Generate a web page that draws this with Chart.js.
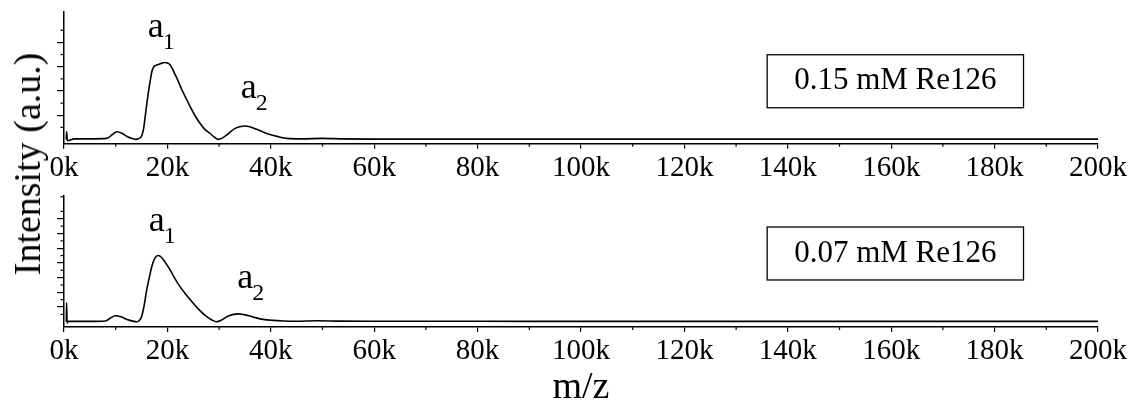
<!DOCTYPE html>
<html>
<head>
<meta charset="utf-8">
<title>MALDI spectra Re126</title>
<style>
  body { margin: 0; background: #fff; }
  #wrap { position: relative; width: 1133px; height: 404px; overflow: hidden; }
  #topChart { position: absolute; left: 0; top: 0; }
  #bottomChart { position: absolute; left: 0; top: 186px; }
  #ytitle {
    position: absolute; left: 27px; top: 164px;
    transform: translate(-50%, -50%) rotate(-90deg);
    font: 38px "Liberation Serif", "Times New Roman", serif;
    line-height: 1; white-space: nowrap; color: #000;
  }
</style>
</head>
<body>
<div id="wrap">
  <canvas id="topChart" width="1133" height="186"></canvas>
  <canvas id="bottomChart" width="1133" height="218"></canvas>
  <div id="ytitle">Intensity (a.u.)</div>
</div>

<script src="https://cdn.jsdelivr.net/npm/chart.js"></script>
<script>
  // m/z values and intensities
  const mzTop = [450, 500, 650, 2000, 5000, 8300, 9300, 10200, 11200, 12100, 13200, 13900, 14600, 15000,
    15400, 15700, 16000, 16300, 16700, 17000, 17300, 17600, 18100, 18600, 19500, 20100, 20500, 21000,
    21500, 22100, 22800, 23600, 24400, 25300, 26300, 27200, 28200, 29100, 29800, 30600, 31500, 32300,
    33100, 34000, 35000, 36100, 37300, 38500, 39800, 41400, 43100, 46000, 50000, 54000, 60000, 80000,
    100000, 120000, 140000, 160000, 180000, 200000];
  const intTop = [0, 0.32, -0.05, 0.03, 0.03, 0.05, 0.2, 0.32, 0.26, 0.14, 0.04, 0.01, 0.06, 0.14,
    0.45, 0.94, 1.45, 1.91, 2.45, 2.8, 2.97, 3.04, 3.08, 3.12, 3.17, 3.14, 3.08, 2.9,
    2.67, 2.4, 2.05, 1.7, 1.36, 1.0, 0.67, 0.43, 0.26, 0.1, 0.01, 0.06, 0.19, 0.34,
    0.46, 0.53, 0.56, 0.52, 0.42, 0.31, 0.21, 0.12, 0.05, 0.03, 0.05, 0.03, 0.02, 0.02,
    0.02, 0.02, 0.02, 0.02, 0.02, 0.02];

  const mzBottom = [450, 500, 600, 800, 2000, 5000, 8000, 9000, 9900, 11000, 12200, 13300, 14100, 14600,
    15000, 15500, 16000, 16500, 17000, 17600, 18200, 18700, 19200, 19800, 20500, 21400, 22400, 23700,
    25000, 26300, 27600, 28600, 29500, 30500, 31500, 32600, 33700, 34800, 35900, 37200, 38500, 40400,
    42400, 45000, 49000, 53000, 60000, 80000, 100000, 120000, 140000, 160000, 180000, 200000];
  const intBottom = [0, 1.28, -0.1, 0.03, 0.02, 0.02, 0.05, 0.25, 0.41, 0.34, 0.15, 0.04, 0.0, 0.1,
    0.34, 1.1, 2.17, 3.0, 3.77, 4.34, 4.5, 4.42, 4.23, 3.92, 3.54, 2.97, 2.4, 1.8,
    1.26, 0.75, 0.34, 0.12, 0.0, 0.12, 0.34, 0.48, 0.53, 0.48, 0.39, 0.26, 0.16, 0.09,
    0.05, 0.03, 0.06, 0.04, 0.03, 0.03, 0.02, 0.02, 0.02, 0.02, 0.02, 0.02];

  const xTicks = [0, 20000, 40000, 60000, 80000, 100000, 120000, 140000, 160000, 180000, 200000];
  const sampleLabels = ['0.15 mM Re126', '0.07 mM Re126'];
  const peakNames = ['a', 'a'];
  const peakSubs = ['1', '2'];

  const SERIF = '"Liberation Serif", "Times New Roman", serif';

  // minor ticks, peak labels and the sample box
  const extras = {
    id: 'extras',
    afterDraw(chart) {
      const { ctx, scales: { x, y } } = chart;
      const o = chart.options.plugins.extras;
      ctx.save();
      ctx.strokeStyle = '#000';
      ctx.lineWidth = 1.2;
      for (let v = 10000; v < x.max; v += 20000) {
        const px = x.getPixelForValue(v);
        ctx.beginPath(); ctx.moveTo(px, x.top); ctx.lineTo(px, x.top + 3); ctx.stroke();
      }
      for (let v = 0.5; v <= y.max; v += 1) {
        const py = y.getPixelForValue(v);
        ctx.beginPath(); ctx.moveTo(y.right - 3.5, py); ctx.lineTo(y.right, py); ctx.stroke();
      }

      ctx.fillStyle = '#000';
      ctx.textAlign = 'left';
      ctx.textBaseline = 'alphabetic';
      o.peaks.forEach((p, i) => {
        const px = x.getPixelForValue(p.x), py = y.getPixelForValue(p.y);
        ctx.font = '36px ' + SERIF;
        ctx.fillText(peakNames[i], px, py);
        const w = ctx.measureText(peakNames[i]).width;
        ctx.font = '24px ' + SERIF;
        ctx.fillText(peakSubs[i], px + w - 1, py + 12);
      });

      ctx.font = '31px ' + SERIF;
      const cx = x.getPixelForValue(o.box.x), cy = y.getPixelForValue(o.box.y);
      const tw = ctx.measureText(o.box.text).width;
      const bw = tw + 54, bh = 53;
      ctx.lineWidth = 1.3;
      ctx.strokeRect(cx - bw / 2, cy - bh / 2, bw, bh);
      ctx.textAlign = 'center';
      ctx.textBaseline = 'middle';
      ctx.fillText(o.box.text, cx, cy);
      ctx.restore();
    }
  };

  function makeChart(id, mz, vals, yMin, yMax, padTop, xHeight, showTitle, extraOpts) {
    const ctx = document.getElementById(id).getContext('2d');
    return new Chart(ctx, {
      type: 'line',
      data: {
        datasets: [{
          data: mz.map((m, i) => ({ x: m, y: vals[i] })),
          borderColor: '#000',
          borderWidth: 1.6,
          pointRadius: 0,
          fill: false,
          cubicInterpolationMode: 'monotone'
        }]
      },
      options: {
        responsive: false,
        animation: false,
        layout: { padding: { top: padTop, right: 35, left: 0, bottom: 0 } },
        scales: {
          x: {
            type: 'linear',
            min: 0,
            max: 200000,
            afterBuildTicks: s => { s.ticks = xTicks.map(v => ({ value: v })); },
            afterFit: s => { s.height = xHeight; },
            ticks: {
              autoSkip: false,
              maxRotation: 0,
              padding: 2,
              color: '#000',
              font: { family: SERIF, size: 29 },
              callback: v => (v / 1000) + 'k'
            },
            grid: { drawOnChartArea: false, drawTicks: true, tickLength: 5, color: '#000', lineWidth: 1.2 },
            border: { display: true, color: '#000', width: 1.5 },
            title: {
              display: showTitle,
              text: 'm/z',
              color: '#000',
              font: { family: SERIF, size: 38, lineHeight: 0.85 },
              padding: { top: 0, bottom: 0 }
            }
          },
          y: {
            min: yMin,
            max: yMax,
            afterBuildTicks: s => { s.ticks = s.ticks.filter(t => Number.isInteger(t.value)); },
            afterFit: s => { s.width = 64; },
            ticks: { display: false, stepSize: 1 },
            grid: { drawOnChartArea: false, drawTicks: true, tickLength: 7, color: '#000', lineWidth: 1.2 },
            border: { display: true, color: '#000', width: 1.5 }
          }
        },
        plugins: {
          legend: { display: false },
          tooltip: { enabled: false },
          extras: extraOpts
        }
      },
      plugins: [extras]
    });
  }

  makeChart('topChart', mzTop, intTop, -0.17, 5.25, 12, 42.3, false, {
    peaks: [{ x: 16200, y: 4.24 }, { x: 34200, y: 1.71 }],
    box: { x: 160800, y: 2.40, text: sampleLabels[0] }
  });

  makeChart('bottomChart', mzBottom, intBottom, -0.36, 8.55, 10, 77, true, {
    peaks: [{ x: 16400, y: 6.17 }, { x: 33500, y: 2.29 }],
    box: { x: 160800, y: 4.64, text: sampleLabels[1] }
  });
</script>
</body>
</html>
